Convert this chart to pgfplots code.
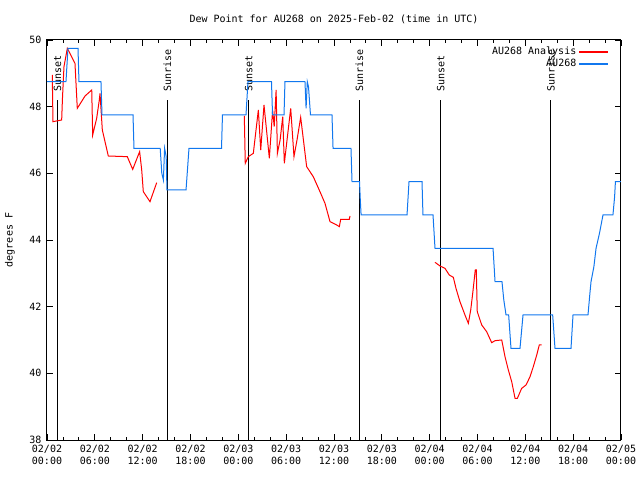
\documentclass[border=0pt]{standalone}
\usepackage{fontspec}
\setmainfont{DejaVu Sans Mono}
\usepackage{pgfplots}
\pgfplotsset{compat=1.18}
\definecolor{obsblue}{RGB}{17,119,238}
\definecolor{anared}{RGB}{255,0,0}
\begin{document}
\fontsize{10bp}{12bp}\selectfont
\begin{tikzpicture}
\useasboundingbox (-47bp,-40bp) rectangle (593bp,440bp);
\begin{axis}[
 at={(0,0)}, anchor=south west,
 scale only axis, width=574bp, height=400bp,
 xmin=0, xmax=72, ymin=38, ymax=50,
 xtick={0,6,...,72},
 xticklabels={{02/02\\00:00},{02/02\\06:00},{02/02\\12:00},{02/02\\18:00},{02/03\\00:00},{02/03\\06:00},{02/03\\12:00},{02/03\\18:00},{02/04\\00:00},{02/04\\06:00},{02/04\\12:00},{02/04\\18:00},{02/05\\00:00}},
 xticklabel style={align=center, font=\fontsize{10bp}{12bp}\selectfont, yshift=-2bp},
 yticklabel style={font=\fontsize{10bp}{12bp}\selectfont, xshift=-2bp},
 minor xtick={2,4,8,10,14,16,20,22,26,28,32,34,38,40,44,46,50,52,56,58,62,64,68,70},
 ytick={38,40,...,50},
 /pgf/number format/assume math mode=true,
 tick align=inside,
 major tick length=6bp, minor tick length=3bp,
 every tick/.style={black, line width=0.8bp},
 axis line style={line width=1bp},
 ylabel={degrees F},
 every axis y label/.style={at={(axis description cs:-0.0645,0.5)}, rotate=90, anchor=center},
 title={Dew Point for AU268 on 2025-Feb-02 (time in UTC)},
 every axis title/.style={at={(axis description cs:0.5,1.0525)}, anchor=center},
 legend style={at={(axis description cs:1,1)}, anchor=north east, xshift=-9bp, yshift=-3bp, draw=none, fill=none, font=\fontsize{10bp}{12bp}\selectfont, row sep=-1bp},
 legend cell align=right,
 legend plot pos=right,
]
% sunrise / sunset lines
\addplot[forget plot, black, line width=1.3bp] coordinates {(1.3,38) (1.3,48.2)};
\addplot[forget plot, black, line width=1.3bp] coordinates {(15.1,38) (15.1,48.2)};
\addplot[forget plot, black, line width=1.3bp] coordinates {(25.3,38) (25.3,48.2)};
\addplot[forget plot, black, line width=1.3bp] coordinates {(39.2,38) (39.2,48.2)};
\addplot[forget plot, black, line width=1.3bp] coordinates {(49.4,38) (49.4,48.2)};
\addplot[forget plot, black, line width=1.3bp] coordinates {(63.2,38) (63.2,48.2)};
\node[rotate=90, anchor=west, inner sep=0pt] at (axis cs:1.3,48.45) {Sunset};
\node[rotate=90, anchor=west, inner sep=0pt] at (axis cs:15.1,48.45) {Sunrise};
\node[rotate=90, anchor=west, inner sep=0pt] at (axis cs:25.3,48.45) {Sunset};
\node[rotate=90, anchor=west, inner sep=0pt] at (axis cs:39.2,48.45) {Sunrise};
\node[rotate=90, anchor=west, inner sep=0pt] at (axis cs:49.4,48.45) {Sunset};
\node[rotate=90, anchor=west, inner sep=0pt] at (axis cs:63.2,48.45) {Sunrise};
% legend
\addlegendimage{anared, line width=1.5bp, legend image code/.code={\draw[anared, line width=1.5bp] (0bp,0bp) -- (29bp,0bp);}}
\addlegendentry{AU268 Analysis}
\addlegendimage{obsblue, line width=1.5bp, legend image code/.code={\draw[obsblue, line width=1.5bp] (0bp,0bp) -- (29bp,0bp);}}
\addlegendentry{AU268}
% analysis (red)
\addplot[anared, line width=1bp, forget plot] coordinates {
(0.66,48.95) (0.75,47.55) (1.84,47.6) (1.94,48.25) (2.13,49.2) (2.55,49.75) (3.51,49.3) (3.80,47.95)
(4.77,48.32) (5.61,48.5) (5.73,47.15) (6.23,47.65) (6.56,48.2) (6.65,48.4) (6.94,47.3) (7.69,46.52)
(10.07,46.5) (10.75,46.12) (11.62,46.65) (11.88,46.1) (12.08,45.45) (12.92,45.15) (13.76,45.72)
};
\addplot[anared, line width=1bp, forget plot] coordinates {
(24.75,47.72) (24.87,46.3) (25.25,46.5) (25.88,46.6) (26.51,47.9) (26.81,46.7) (27.22,48.05) (27.89,46.45)
(28.3,47.9) (28.5,47.4) (28.74,48.5) (28.9,46.6) (29.24,47.0) (29.57,47.7) (29.77,46.3) (30.57,47.95)
(30.98,46.5) (31.36,47.0) (31.82,47.68) (32.57,46.2) (33.40,45.9) (34.24,45.45) (34.87,45.1) (35.50,44.55)
(36.34,44.45) (36.67,44.4) (36.84,44.62) (37.92,44.62) (38.01,44.72)
};
\addplot[anared, line width=1bp, forget plot] coordinates {
(48.67,43.33) (49.30,43.22) (49.92,43.15) (50.46,42.95) (50.97,42.88) (51.30,42.55) (51.80,42.15) (52.43,41.75)
(52.85,41.5) (53.15,41.9) (53.40,42.4) (53.72,43.1) (53.85,43.1) (53.97,41.85) (54.53,41.45) (55.15,41.25)
(55.78,40.92) (56.20,40.98) (57.04,41.0) (57.45,40.5) (57.87,40.1) (58.29,39.75) (58.71,39.25) (59.0,39.25)
(59.54,39.55) (60.09,39.65) (60.59,39.9) (61.0,40.2) (61.43,40.55) (61.75,40.85) (62.05,40.85)
};
% observations (blue)
\addplot[obsblue, line width=1bp, forget plot] coordinates {
(0,48.75) (2.38,48.75) (2.63,49.75) (3.89,49.75) (4.01,48.75) (6.77,48.75) (6.90,47.75) (10.79,47.75)
(10.91,46.75) (14.2,46.75) (14.4,46.0) (14.6,45.8) (14.75,46.75) (14.95,46.5) (15.05,45.5) (17.44,45.5)
(17.81,46.75) (21.89,46.75) (22.01,47.75) (24.96,47.75) (25.21,48.75) (28.16,48.75) (28.29,47.75) (29.73,47.75)
(29.85,48.75) (32.36,48.75) (32.5,47.95) (32.65,48.75) (32.8,48.6) (33.05,47.75) (35.75,47.75) (35.88,46.75)
(38.13,46.75) (38.26,45.75) (39.20,45.75) (39.3,45.2) (39.4,44.75) (45.16,44.75) (45.41,45.75) (47.04,45.75)
(47.16,44.75) (48.42,44.75) (48.67,43.75) (55.95,43.75) (56.20,42.75) (57.07,42.75) (57.3,42.2) (57.58,41.75)
(57.91,41.75) (58.20,40.75) (59.33,40.75) (59.71,41.75) (63.43,41.75) (63.72,40.75) (65.73,40.75) (65.98,41.75)
(67.86,41.75) (68.1,42.4) (68.24,42.75) (68.6,43.2) (68.87,43.75) (69.3,44.2) (69.74,44.75) (70.99,44.75)
(71.2,45.3) (71.30,45.75) (72,45.75)
};
\end{axis}
\end{tikzpicture}
\end{document}
